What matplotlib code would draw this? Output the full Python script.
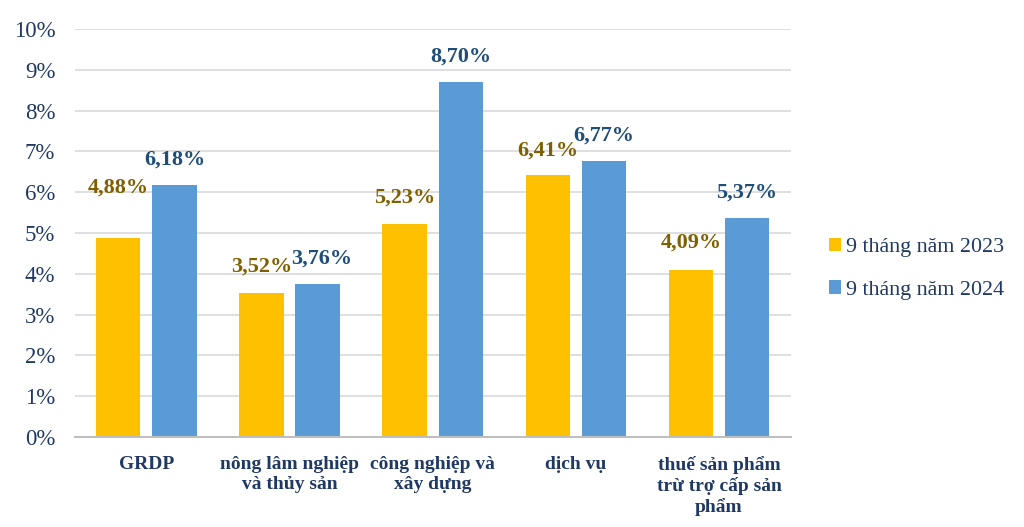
import matplotlib.pyplot as plt
import numpy as np

categories = ['GRDP', 'nông lâm nghiệp\nvà thủy sản', 'công nghiệp và\nxây dựng',
              'dịch vụ', 'thuế sản phẩm\ntrừ trợ cấp sản\nphẩm']
series_names = ['9 tháng năm 2023', '9 tháng năm 2024']
vals_2023 = [4.88, 3.52, 5.23, 6.41, 4.09]
vals_2024 = [6.18, 3.76, 8.70, 6.77, 5.37]
yticks = [0, 1, 2, 3, 4, 5, 6, 7, 8, 9, 10]

plt.rcParams['font.family'] = ['Liberation Serif', 'DejaVu Serif']
navy = '#1F3864'

fig = plt.figure(figsize=(10.24, 5.27), dpi=100)
ax = fig.add_axes([0.073, 0.171, 0.699, 0.774])

x = np.arange(len(categories))
w = 0.31
off = 0.196
b1 = ax.bar(x - off, vals_2023, w, color='#FFC000', label=series_names[0], zorder=3)
b2 = ax.bar(x + off, vals_2024, w, color='#5B9BD5', label=series_names[1], zorder=3)

# label offsets in points (first label sits higher in the original)
lift_2023 = [36, 19, 19, 18, 20]
for i, r in enumerate(b1):
    ax.annotate(f'{vals_2023[i]:.2f}%'.replace('.', ','),
                (r.get_x() + r.get_width() / 2, r.get_height()),
                xytext=(0, lift_2023[i]), textcoords='offset points',
                ha='center', va='center', fontsize=16, fontweight='bold',
                color='#7F6000')
for i, r in enumerate(b2):
    ax.annotate(f'{vals_2024[i]:.2f}%'.replace('.', ','),
                (r.get_x() + r.get_width() / 2, r.get_height()),
                xytext=(3 if i == 1 else 0, 18), textcoords='offset points',
                ha='center', va='center', fontsize=16, fontweight='bold',
                color='#1F4E79')

ax.set_xlim(-0.5, len(categories) - 0.5)
ax.set_ylim(0, 10)
ax.set_yticks(yticks)
ax.set_yticklabels([f'{t}%' for t in yticks], fontsize=16.5, color=navy)
ax.set_xticks(x)
ax.set_xticklabels(categories, fontsize=14, fontweight='bold', color=navy,
                   va='top', linespacing=1.2)
ax.tick_params(axis='both', length=0)
ax.tick_params(axis='x', pad=14)
ax.tick_params(axis='y', pad=14)
ax.grid(axis='y', color='#D9D9D9', linewidth=1.2, zorder=0)
for s in ['left', 'right', 'top']:
    ax.spines[s].set_visible(False)
ax.spines['bottom'].set_color('#BFBFBF')
ax.spines['bottom'].set_linewidth(1.5)
ax.spines['bottom'].set_zorder(4)

leg = fig.legend(loc='center left', bbox_to_anchor=(0.79, 0.49), frameon=False,
                 fontsize=15.8, handlelength=0.55, handleheight=0.55,
                 handletextpad=0.25, labelspacing=1.05, labelcolor=navy)

fig.savefig('out.png', dpi=100)
